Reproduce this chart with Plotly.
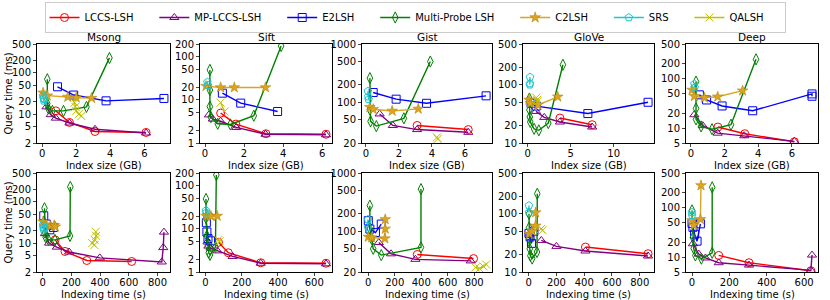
import plotly.graph_objects as go
import math

METHODS = ["LCCS-LSH", "MP-LCCS-LSH", "E2LSH", "Multi-Probe LSH", "C2LSH", "SRS", "QALSH"]
COLORS = ["#ff0000", "#800080", "#0000ff", "#008000", "#daa520", "#1cc6cf", "#bfbf00"]
SYMBOLS = ["circle-open", "triangle-up-open", "square-open", "diamond-tall-open", "star", "pentagon-open", "x-thin-open"]
DATASETS = ["Msong", "Sift", "Gist", "GloVe", "Deep"]

# ---------- Row 1: index size (GB) vs query time (ms) ----------
MSONG_SIZE_X = {"LCCS-LSH": [0.8, 1.6, 3.1, 6.1], "MP-LCCS-LSH": [0.25, 0.5, 0.8, 1.6, 3.1, 6.1],
                "E2LSH": [0.9, 1.85, 3.75, 7.15], "Multi-Probe LSH": [0.3, 0.3, 0.35, 0.6, 1.25, 2.6, 3.95],
                "C2LSH": [0.05, 0.3, 1.5, 2.0, 2.9], "SRS": [0.05, 0.08, 0.1, 0.12],
                "QALSH": [1.9, 1.95, 2.0, 2.15, 2.3]}
MSONG_SIZE_Y = {"LCCS-LSH": [12, 6.3, 3.8, 3.6], "MP-LCCS-LSH": [15, 9.7, 8, 6.1, 4.3, 3.5],
                "E2LSH": [46, 29, 21, 24], "Multi-Probe LSH": [70, 18, 14, 12, 12, 15, 230],
                "C2LSH": [33, 28, 26, 25, 24.5], "SRS": [28, 24, 21, 23],
                "QALSH": [19, 15, 12, 10, 9]}
SIFT_SIZE_X = {"LCCS-LSH": [0.8, 1.58, 3.12, 6.2], "MP-LCCS-LSH": [0.2, 0.4, 0.8, 1.6, 3.1, 6.2],
               "E2LSH": [0.89, 1.83, 3.72], "Multi-Probe LSH": [0.25, 0.25, 0.25, 0.3, 0.65, 1.3, 2.5, 3.9],
               "C2LSH": [0.05, 0.8, 1.5, 3.1], "SRS": [0.12, 0.15],
               "QALSH": [0.8, 1.0]}
SIFT_SIZE_Y = {"LCCS-LSH": [4.95, 2.75, 1.64, 1.6], "MP-LCCS-LSH": [4.5, 3.6, 3.2, 2.3, 1.6, 1.55],
               "E2LSH": [14.4, 8.45, 5.4], "Multi-Probe LSH": [50, 17, 7, 4, 2.8, 2.7, 4.3, 180],
               "C2LSH": [21, 19.5, 19.5, 19.5], "SRS": [26, 22],
               "QALSH": [8.7, 5.4]}
GIST_SIZE_X = {"LCCS-LSH": [3.1, 6.2], "MP-LCCS-LSH": [0.83, 1.63, 3.1, 6.2],
               "E2LSH": [0.44, 1.83, 3.67, 7.28], "Multi-Probe LSH": [0.24, 0.24, 0.28, 0.63, 2.3, 3.9],
               "C2LSH": [0.24, 0.44, 1.59, 3.17], "SRS": [0.12, 0.14, 0.16],
               "QALSH": [4.3, 4.35]}
GIST_SIZE_Y = {"LCCS-LSH": [40, 34], "MP-LCCS-LSH": [63, 40, 34, 30.5],
               "E2LSH": [147, 113, 96, 129], "Multi-Probe LSH": [260, 75, 47, 39, 53, 500],
               "C2LSH": [82, 76, 71, 77], "SRS": [155, 125, 112],
               "QALSH": [25, 23.5]}
GLOVE_SIZE_X = {"LCCS-LSH": [3.75, 7.5], "MP-LCCS-LSH": [0.97, 1.93, 3.75, 7.5],
                "E2LSH": [0.4, 1.0, 7.0, 14.0], "Multi-Probe LSH": [0.2, 0.2, 0.25, 0.3, 0.75, 1.3, 2.4, 4.1],
                "C2LSH": [0.15, 0.3, 1.2, 3.5], "SRS": [0.27, 0.27, 0.25],
                "QALSH": [1.0, 1.1, 1.15]}
GLOVE_SIZE_Y = {"LCCS-LSH": [26.8, 20.6], "MP-LCCS-LSH": [34.8, 27.5, 22.9, 18.8],
                "E2LSH": [48, 43, 32, 50], "Multi-Probe LSH": [58, 37, 28, 23, 17.5, 16.5, 22, 220],
                "C2LSH": [55, 48, 45, 62], "SRS": [135, 105, 100],
                "QALSH": [60, 55, 52]}
DEEP_SIZE_X = {"LCCS-LSH": [1.6, 3.2, 6.15], "MP-LCCS-LSH": [0.2, 0.7, 1.59, 3.17, 6.15],
               "E2LSH": [0.5, 0.93, 1.85, 3.67, 7.2, 7.2], "Multi-Probe LSH": [0.3, 0.3, 0.3, 0.6, 1.25, 2.38, 3.87],
               "C2LSH": [0.06, 0.2, 0.8, 1.59, 3.07], "SRS": [0.2, 0.22],
               "QALSH": []}
DEEP_SIZE_Y = {"LCCS-LSH": [10.5, 7.7, 5.3], "MP-LCCS-LSH": [18.6, 11.2, 7.9, 7.0, 5.4],
               "E2LSH": [47, 37, 28, 22.4, 49, 44], "Multi-Probe LSH": [87, 25, 15, 10.8, 9.5, 11.7, 245],
               "C2LSH": [59, 44, 41, 43, 57], "SRS": [78, 66],
               "QALSH": []}

# ---------- Row 2: indexing time (s) vs query time (ms) ----------
MSONG_TIME_X = {"LCCS-LSH": [86, 155, 307, 620], "MP-LCCS-LSH": [15, 44, 98, 184, 398, 830, 840, 845],
                "E2LSH": [7, 25, 49, 74], "Multi-Probe LSH": [12, 15, 20, 40, 85, 190, 192],
                "C2LSH": [2, 25, 55, 80, 88], "SRS": [2, 4, 6, 10],
                "QALSH": [370, 372, 362, 345, 360]}
MSONG_TIME_Y = {"LCCS-LSH": [12, 6.3, 3.8, 3.6], "MP-LCCS-LSH": [17, 10, 8, 6.1, 4.4, 3.5, 7.8, 18.5],
                "E2LSH": [46, 29, 21, 24], "Multi-Probe LSH": [70, 18, 14, 12, 12, 15, 230],
                "C2LSH": [33, 28, 26, 27, 25], "SRS": [28, 24, 21, 23],
                "QALSH": [19, 15, 12, 10, 9]}
SIFT_TIME_X = {"LCCS-LSH": [72, 126, 305, 665], "MP-LCCS-LSH": [11, 16, 28, 66, 150, 305, 665],
               "E2LSH": [5, 8, 14, 28], "Multi-Probe LSH": [3, 3, 8, 13, 18, 25, 55, 60],
               "C2LSH": [3, 12, 30, 65], "SRS": [3, 5],
               "QALSH": [70, 78]}
SIFT_TIME_Y = {"LCCS-LSH": [4.9, 2.8, 1.64, 1.6], "MP-LCCS-LSH": [5, 4, 3.6, 3.1, 2.3, 1.6, 1.55],
               "E2LSH": [14, 8.5, 6, 5.3], "Multi-Probe LSH": [50, 18, 7, 4.2, 2.8, 2.5, 3.8, 180],
               "C2LSH": [20, 21, 20, 20], "SRS": [27, 24],
               "QALSH": [5.5, 5.2]}
GIST_TIME_X = {"LCCS-LSH": [370, 795], "MP-LCCS-LSH": [79, 172, 356, 774],
               "E2LSH": [0, 12, 54, 98], "Multi-Probe LSH": [12, 12, 25, 37, 98, 398, 398],
               "C2LSH": [0, 25, 125, 128, 128], "SRS": [-3, -3],
               "QALSH": [810, 840, 870, 890]}
GIST_TIME_Y = {"LCCS-LSH": [40, 34], "MP-LCCS-LSH": [64, 41, 33, 31],
               "E2LSH": [152, 109, 95, 133], "Multi-Probe LSH": [275, 110, 74, 50, 39, 53, 530],
               "C2LSH": [80, 78, 75, 110, 160], "SRS": [160, 118],
               "QALSH": [24, 23, 25, 27]}
GLOVE_TIME_X = {"LCCS-LSH": [409, 860], "MP-LCCS-LSH": [91, 200, 409, 860],
                "E2LSH": [2, 10, 20, 38], "Multi-Probe LSH": [2, 3, 5, 8, 12, 25, 60, 62],
                "C2LSH": [5, 25, 50, 50], "SRS": [2, 2],
                "QALSH": [90, 100]}
GLOVE_TIME_Y = {"LCCS-LSH": [26.8, 20.6], "MP-LCCS-LSH": [34.8, 27.5, 22.9, 18.8],
                "E2LSH": [46, 40, 31, 50], "Multi-Probe LSH": [100, 58, 37, 25, 19, 17, 22, 220],
                "C2LSH": [45, 50, 62, 105], "SRS": [138, 105],
                "QALSH": [55, 52]}
DEEP_TIME_X = {"LCCS-LSH": [143, 305, 636], "MP-LCCS-LSH": [5, 36, 72, 143, 305, 636, 642],
               "E2LSH": [0, 5, 14, 27, 45], "Multi-Probe LSH": [0, 5, 9, 18, 50, 108, 108],
               "C2LSH": [0, 10, 45, 48], "SRS": [0, 0],
               "QALSH": []}
DEEP_TIME_Y = {"LCCS-LSH": [10.8, 7.7, 5.3], "MP-LCCS-LSH": [18.6, 11.5, 9.6, 7.7, 6.9, 5.4, 11],
               "E2LSH": [48, 40, 29, 21, 47], "Multi-Probe LSH": [88, 25, 15, 10.8, 9.3, 12.2, 257],
               "C2LSH": [55, 44, 58, 280], "SRS": [80, 70],
               "QALSH": []}

Y_TICKS = {"Msong": [2, 5, 10, 20, 50, 100, 200, 500], "Sift": [1, 2, 5, 10, 20, 50, 100, 200],
           "Gist": [20, 50, 100, 200, 500, 1000], "GloVe": [10, 20, 50, 100, 200, 500],
           "Deep": [5, 10, 20, 50, 100, 200, 500]}
SIZE_TICKS = {"Msong": [0, 2, 4, 6], "Sift": [0, 2, 4, 6], "Gist": [0, 2, 4, 6],
              "GloVe": [0, 5, 10], "Deep": [0, 2, 4, 6]}
TIME_TICKS = {"Msong": [0, 200, 400, 600, 800], "Sift": [0, 200, 400, 600], "Gist": [0, 200, 400, 600, 800],
              "GloVe": [0, 200, 400, 600, 800], "Deep": [0, 200, 400, 600]}
X_TITLES = ["Index size (GB)", "Indexing time (s)"]
Y_TITLE = "Query time (ms)"

SIZE_DATA = [(MSONG_SIZE_X, MSONG_SIZE_Y), (SIFT_SIZE_X, SIFT_SIZE_Y), (GIST_SIZE_X, GIST_SIZE_Y),
             (GLOVE_SIZE_X, GLOVE_SIZE_Y), (DEEP_SIZE_X, DEEP_SIZE_Y)]
TIME_DATA = [(MSONG_TIME_X, MSONG_TIME_Y), (SIFT_TIME_X, SIFT_TIME_Y), (GIST_TIME_X, GIST_TIME_Y),
             (GLOVE_TIME_X, GLOVE_TIME_Y), (DEEP_TIME_X, DEEP_TIME_Y)]

W, H = 830, 300
X_PX = [(37, 170), (200, 332), (362, 492), (523, 654), (686, 818)]
ROW_PX = [(44, 143), (173, 272)]
FONT = "DejaVu Sans"
FS = 10
PAD = "\u00a0" * 5

fig = go.Figure()
layout = dict(width=W, height=H, margin=dict(l=0, r=0, t=0, b=0, autoexpand=False),
              plot_bgcolor="white", paper_bgcolor="white", hovermode=False,
              font=dict(family=FONT, size=FS, color="black"),
              showlegend=True)

annotations = []
k = 0
for row in range(2):
    data = SIZE_DATA if row == 0 else TIME_DATA
    for col, ds in enumerate(DATASETS):
        k += 1
        xs, ys = data[col]
        xa = "x" if k == 1 else f"x{k}"
        ya = "y" if k == 1 else f"y{k}"
        for m, name in enumerate(METHODS):
            if not xs[name]:
                continue
            sym = SYMBOLS[m]
            if sym == "star":
                marker = dict(symbol=sym, size=8, color=COLORS[m], line=dict(width=0.6, color="#b8860b"))
            else:
                marker = dict(symbol=sym, size=8, color=COLORS[m], line=dict(width=1, color=COLORS[m]))
            fig.add_trace(go.Scatter(x=xs[name], y=ys[name], mode="lines+markers", name=name + PAD,
                                     line=dict(color=COLORS[m], width=1.4), marker=marker,
                                     xaxis=xa, yaxis=ya, legendgroup=name,
                                     showlegend=(k == 1)))
        allx = [v for n in METHODS for v in xs[n]]
        x0, x1 = min(allx), max(allx)
        pad = 0.05 * (x1 - x0)
        y0, y1 = Y_TICKS[ds][0], Y_TICKS[ds][-1]
        xp = X_PX[col]
        yp = ROW_PX[row]
        ticks = SIZE_TICKS[ds] if row == 0 else TIME_TICKS[ds]
        xkey = "xaxis" if k == 1 else f"xaxis{k}"
        ykey = "yaxis" if k == 1 else f"yaxis{k}"
        layout[xkey] = dict(domain=[xp[0] / W, xp[1] / W], anchor=ya, range=[x0 - pad, x1 + pad],
                            tickvals=ticks, ticks="outside", ticklen=3, showgrid=False, zeroline=False,
                            showline=True, mirror=True, linecolor="black", linewidth=1,
                            ticklabelstandoff=-2,
                            tickfont=dict(size=FS), automargin=False)
        layout[ykey] = dict(domain=[1 - yp[1] / H, 1 - yp[0] / H], anchor=xa, type="log",
                            range=[math.log10(y0), math.log10(y1)], tickvals=Y_TICKS[ds],
                            ticktext=[str(v) for v in Y_TICKS[ds]], automargin=False,
                            ticks="outside", ticklen=3, showgrid=False, zeroline=False,
                            showline=True, mirror=True, linecolor="black", linewidth=1,
                            tickfont=dict(size=FS))
        annotations.append(dict(text=X_TITLES[row], x=(xp[0] + xp[1]) / 2 / W, y=1 - (yp[1] + 22) / H,
                                xref="paper", yref="paper", showarrow=False, font=dict(size=FS),
                                xanchor="center", yanchor="middle"))
        if col == 0:
            annotations.append(dict(text=Y_TITLE, x=8 / W, y=1 - (yp[0] + yp[1]) / 2 / H,
                                    xref="paper", yref="paper", showarrow=False, textangle=-90,
                                    font=dict(size=FS), xanchor="center", yanchor="middle"))
        if row == 0:
            annotations.append(dict(text=ds, x=(xp[0] + xp[1]) / 2 / W, y=1 - 37 / H, xref="paper",
                                    yref="paper", showarrow=False, font=dict(size=FS + 0.5),
                                    xanchor="center", yanchor="middle"))

layout["annotations"] = annotations
layout["legend"] = dict(orientation="h", x=0.5, y=1 - 2 / H, xanchor="center", yanchor="top",
                        bordercolor="#cccccc", borderwidth=1, font=dict(size=FS),
                        itemwidth=30, tracegroupgap=0)
fig.update_layout(**layout)
fig.write_html("out.html", config={"displayModeBar": False, "staticPlot": True},
               post_script="document.body.style.margin='0';document.body.style.padding='0';"
                           "document.body.style.overflow='hidden';")
